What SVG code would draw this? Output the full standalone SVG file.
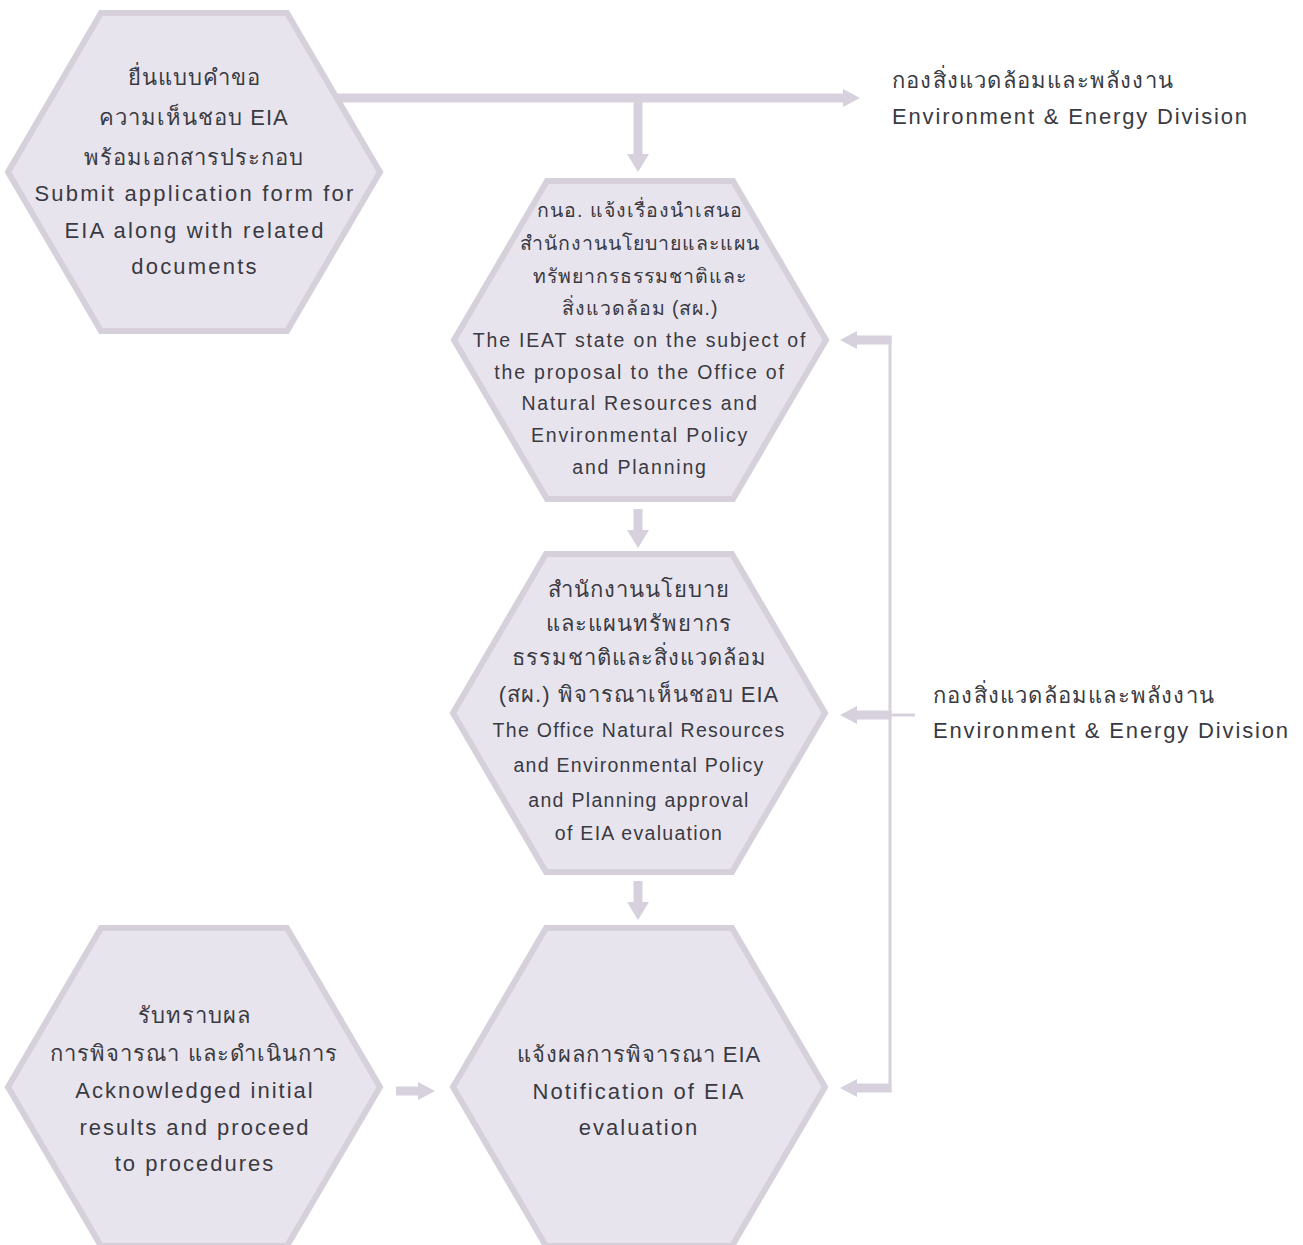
<svg xmlns="http://www.w3.org/2000/svg" width="1303" height="1245" viewBox="0 0 1303 1245">
<defs>
<style>
.hex{fill:#e8e4ee;stroke:#d5d0da;stroke-width:6;stroke-linejoin:miter}
.t{font-family:"Liberation Sans","Noto Sans",sans-serif;fill:#3a3a42;text-anchor:middle;letter-spacing:1px}
.t22{font-size:22px}
.t20{font-size:19.5px}
.e1{letter-spacing:2.2px}
.e2{letter-spacing:1.8px}
.e3{letter-spacing:1.3px}
.e4{letter-spacing:2px}
.lbl{font-family:"Liberation Sans","Noto Sans",sans-serif;fill:#3a3a42;font-size:22px;letter-spacing:1.2px}
.le{letter-spacing:1.85px}
.bar{stroke:#d6d1dc;stroke-width:9;fill:none}
.thin{stroke:#d6d1dc;stroke-width:3;fill:none}
.head{fill:#d6d1dc}
</style>
</defs>
<rect width="1303" height="1245" fill="#ffffff"/>

<g id="connectors">
  <line class="bar" x1="336" y1="98" x2="845" y2="98"/>
  <polygon class="head" points="843,89 860,98 843,107"/>
  <line class="bar" x1="638" y1="98" x2="638" y2="156"/>
  <polygon class="head" points="627,154 649,154 638,172"/>
  <line class="bar" x1="638" y1="509" x2="638" y2="532"/>
  <polygon class="head" points="627,530 649,530 638,548"/>
  <line class="bar" x1="638" y1="881" x2="638" y2="904"/>
  <polygon class="head" points="627,902 649,902 638,920"/>
  <line class="bar" x1="396" y1="1091" x2="420" y2="1091"/>
  <polygon class="head" points="418,1082 435,1091 418,1100"/>
  <line class="thin" x1="890" y1="336" x2="890" y2="1092"/>
  <line class="bar" x1="891.5" y1="340" x2="855" y2="340"/>
  <polygon class="head" points="857,331 840,340 857,349"/>
  <line class="bar" x1="891.5" y1="715" x2="855" y2="715"/>
  <polygon class="head" points="857,706 840,715 857,724"/>
  <line class="thin" x1="890" y1="715" x2="915" y2="715"/>
  <line class="bar" x1="891.5" y1="1088" x2="855" y2="1088"/>
  <polygon class="head" points="857,1079 840,1088 857,1097"/>
</g>

<g id="n1">
  <polygon class="hex" points="8,172 101,13 287,13 380,172 287,331 101,331"/>
  <text class="t t22" x="194" y="85">ยื่นแบบคำขอ</text>
  <text class="t t22" x="194" y="125">ความเห็นชอบ EIA</text>
  <text class="t t22" x="194" y="165">พร้อมเอกสารประกอบ</text>
  <text class="t t22 e1" x="195" y="201">Submit application form for</text>
  <text class="t t22 e1" x="195" y="238">EIA along with related</text>
  <text class="t t22 e1" x="195" y="274">documents</text>
</g>

<g id="n2">
  <polygon class="hex" points="454,340 547,181 733,181 826,340 733,499 547,499"/>
  <text class="t t20" x="640" y="217">กนอ. แจ้งเรื่องนำเสนอ</text>
  <text class="t t20" x="640" y="250">สำนักงานนโยบายและแผน</text>
  <text class="t t20" x="640" y="283">ทรัพยากรธรรมชาติและ</text>
  <text class="t t20" x="640" y="315">สิ่งแวดล้อม (สผ.)</text>
  <text class="t t20 e2" x="640" y="347">The IEAT state on the subject of</text>
  <text class="t t20 e2" x="640" y="379">the proposal to the Office of</text>
  <text class="t t20 e2" x="640" y="410">Natural Resources and</text>
  <text class="t t20 e2" x="640" y="442">Environmental Policy</text>
  <text class="t t20 e2" x="640" y="474">and Planning</text>
</g>

<g id="n3">
  <polygon class="hex" points="453,713 546,554 732,554 825,713 732,872 546,872"/>
  <text class="t t22" x="639" y="597">สำนักงานนโยบาย</text>
  <text class="t t22" x="639" y="631">และแผนทรัพยากร</text>
  <text class="t t22" x="639" y="665">ธรรมชาติและสิ่งแวดล้อม</text>
  <text class="t t22" x="639" y="702">(สผ.) พิจารณาเห็นชอบ EIA</text>
  <text class="t t20 e3" x="639" y="737">The Office Natural Resources</text>
  <text class="t t20 e3" x="639" y="772">and Environmental Policy</text>
  <text class="t t20 e3" x="639" y="807">and Planning approval</text>
  <text class="t t20 e3" x="639" y="840">of EIA evaluation</text>
</g>

<g id="n4">
  <polygon class="hex" points="453,1087 546,928 732,928 825,1087 732,1246 546,1246"/>
  <text class="t t22" x="639" y="1062">แจ้งผลการพิจารณา EIA</text>
  <text class="t t22 e4" x="639" y="1099">Notification of EIA</text>
  <text class="t t22 e4" x="639" y="1135">evaluation</text>
</g>

<g id="n5">
  <polygon class="hex" points="8,1087 101,928 287,928 380,1087 287,1246 101,1246"/>
  <text class="t t22" x="194" y="1023">รับทราบผล</text>
  <text class="t t22" x="194" y="1061">การพิจารณา และดำเนินการ</text>
  <text class="t t22 e4" x="195" y="1098">Acknowledged initial</text>
  <text class="t t22 e4" x="195" y="1135">results and proceed</text>
  <text class="t t22 e4" x="195" y="1171">to procedures</text>
</g>

<g id="label-top">
  <text class="lbl" x="892" y="88">กองสิ่งแวดล้อมและพลังงาน</text>
  <text class="lbl le" x="892" y="124">Environment &amp; Energy Division</text>
</g>
<g id="label-right">
  <text class="lbl" x="933" y="703">กองสิ่งแวดล้อมและพลังงาน</text>
  <text class="lbl le" x="933" y="738">Environment &amp; Energy Division</text>
</g>
</svg>
